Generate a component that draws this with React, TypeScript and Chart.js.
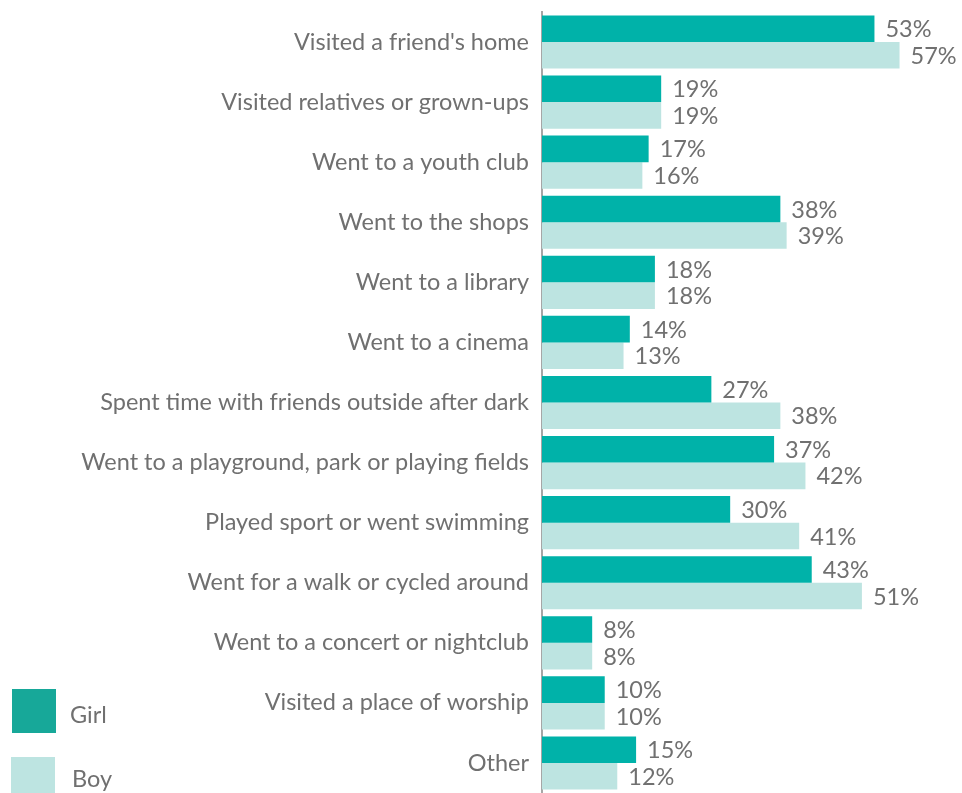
import React, { useEffect, useRef } from "react";
import { Chart, registerables } from "chart.js";

Chart.register(...registerables);

const categories = [
  "Visited a friend's home",
  "Visited relatives or grown-ups",
  "Went to a youth club",
  "Went to the shops",
  "Went to a library",
  "Went to a cinema",
  "Spent time with friends outside after dark",
  "Went to a playground, park or playing fields",
  "Played sport or went swimming",
  "Went for a walk or cycled around",
  "Went to a concert or nightclub",
  "Visited a place of worship",
  "Other",
];
const girlValues = [53, 19, 17, 38, 18, 14, 27, 37, 30, 43, 8, 10, 15];
const boyValues = [57, 19, 16, 39, 18, 13, 38, 42, 41, 51, 8, 10, 12];
const seriesNames = ["Girl", "Boy"];

const GIRL = "#00b2a9";
const BOY = "#bde4e1";
const GIRL_LEGEND = "#17a899";
const TEXT = "#707070";
const FONT = "Lato, 'DejaVu Sans', sans-serif";
const FS = 23.5;
const FW = 400;

const valueLabels = {
  id: "valueLabels",
  afterDatasetsDraw(chart: any) {
    const ctx = chart.ctx;
    ctx.save();
    ctx.fillStyle = TEXT;
    ctx.font = `${FW} ${FS}px ${FONT}`;
    ctx.textAlign = "left";
    ctx.textBaseline = "middle";
    chart.data.datasets.forEach((ds: any, di: number) => {
      const meta = chart.getDatasetMeta(di);
      meta.data.forEach((bar: any, i: number) => {
        ctx.fillText(`${ds.data[i]}%`, bar.x + 11, bar.y + 1);
      });
    });
    ctx.restore();
  },
};

export default function App() {
  const ref = useRef<HTMLCanvasElement>(null);
  useEffect(() => {
    if (!ref.current) return;
    const chart = new Chart(ref.current, {
      type: "bar",
      data: {
        labels: categories,
        datasets: [
          { label: seriesNames[0], data: girlValues, backgroundColor: GIRL, categoryPercentage: 0.885, barPercentage: 1 },
          { label: seriesNames[1], data: boyValues, backgroundColor: BOY, categoryPercentage: 0.885, barPercentage: 1 },
        ],
      },
      options: {
        indexAxis: "y",
        animation: false,
        responsive: false,
        layout: { padding: { top: 12, bottom: 0, right: 6, left: 0 } },
        plugins: { legend: { display: false }, tooltip: { enabled: false } },
        scales: {
          x: { display: false, min: 0, max: 66 },
          y: {
            afterFit(scale: any) {
              scale.width = 542;
              scale.paddingTop = 0;
              scale.paddingBottom = 0;
            },
            grid: { display: false },
            border: { display: true, color: "#a6a6a6", width: 2 },
            ticks: {
              color: TEXT,
              font: { family: FONT, size: FS, weight: FW as any },
              padding: 5,
              autoSkip: false,
            },
          },
        },
      },
      plugins: [valueLabels],
    });
    return () => chart.destroy();
  }, []);

  const legendText: React.CSSProperties = {
    position: "absolute",
    fontFamily: FONT,
    fontSize: FS,
    fontWeight: FW,
    color: TEXT,
    lineHeight: "24px",
  };
  return (
    <div style={{ position: "fixed", left: 0, top: 0, width: 962, height: 793, background: "#fff", overflow: "hidden" }}>
      <canvas ref={ref} width={962} height={793} style={{ position: "absolute", left: 0, top: 0 }} />
      <div style={{ position: "absolute", left: 12, top: 689, width: 44, height: 44, background: GIRL_LEGEND }} />
      <div style={{ ...legendText, left: 70, top: 702 }}>{seriesNames[0]}</div>
      <div style={{ position: "absolute", left: 11, top: 757, width: 44, height: 44, background: BOY }} />
      <div style={{ ...legendText, left: 72, top: 766 }}>{seriesNames[1]}</div>
    </div>
  );
}
